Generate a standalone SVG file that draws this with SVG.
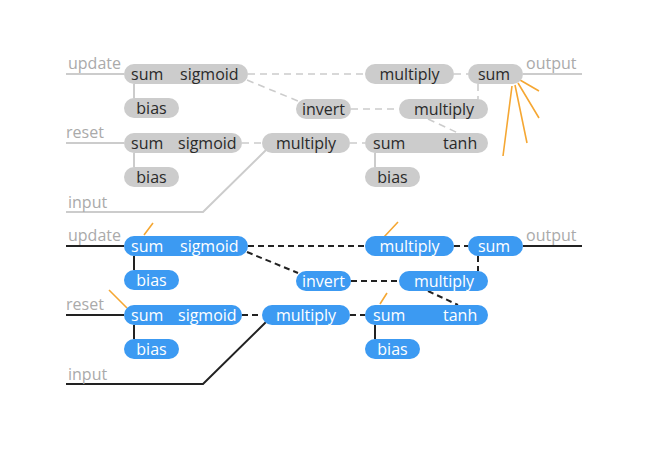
<svg xmlns="http://www.w3.org/2000/svg" width="662" height="458" viewBox="0 0 662 458">
<style>
text{font-family:"Open Sans","Noto Sans",sans-serif;font-size:16px}
.g rect{fill:#cccccc}
.g text{fill:#2a2a2a}
.b rect{fill:#3c9af2}
.b text{fill:#ffffff}
.lbl{fill:#aaaaaa}
.sg{stroke:#cccccc;stroke-width:2;fill:none}
.dg{stroke:#cccccc;stroke-width:1.6;fill:none;stroke-dasharray:7 5}
.sb{stroke:#222222;stroke-width:2;fill:none}
.db{stroke:#222222;stroke-width:2;fill:none;stroke-dasharray:6 4}
.o{stroke:#f5a733;stroke-width:1.6;fill:none}
.m{text-anchor:middle}
</style>
<g id="connectors-top">
<path class="sg" d="M66 74H124M66 143H124M66 212H203L266 150M582 74H523M134 84V98M134 153V167M375 153V167"/>
<path class="dg" d="M248 74H365M454 74H468M247 80L298 101M351 109H399M478 84V99M428 119L458 133M242 143H262M350 143H365"/>
<path class="o" d="M520 80L539 91M518 83L539 118M515 85L527 143M512 86L503 156"/>
</g>
<g id="connectors-bottom">
<path class="sb" d="M66 246H124M66 315H124M66 384H203L266 322M582 246H523M134 256V270M134 325V339M375 325V339"/>
<path class="db" d="M248 246H365M454 246H468M247 252L298 273M351 281H399M478 256V271M428 291L458 305M242 315H262M350 315H365"/>
<path class="o" d="M144 235L153 223M109 290L127 308M384 237L398 222M380 304L387 293"/>
</g>
<g id="labels">
<text class="lbl" x="68" y="69">update</text>
<text class="lbl" x="66" y="138">reset</text>
<text class="lbl" x="68" y="208">input</text>
<text class="lbl" x="526" y="69">output</text>
<text class="lbl" x="68" y="241">update</text>
<text class="lbl" x="66" y="310">reset</text>
<text class="lbl" x="68" y="380">input</text>
<text class="lbl" x="526" y="241">output</text>
</g>
<g class="g">
<g id="t-update-sum-sigmoid"><rect x="124" y="64" width="124" height="20" rx="10"/><text x="131" y="80">sum</text><text x="180" y="80">sigmoid</text></g>
<g id="t-update-bias"><rect x="124" y="98" width="55" height="20" rx="10"/><text class="m" x="151.5" y="114">bias</text></g>
<g id="t-reset-sum-sigmoid"><rect x="124" y="133" width="118" height="20" rx="10"/><text x="131" y="149">sum</text><text x="178" y="149">sigmoid</text></g>
<g id="t-reset-bias"><rect x="124" y="167" width="55" height="20" rx="10"/><text class="m" x="151.5" y="183">bias</text></g>
<g id="t-invert"><rect x="296" y="99" width="55" height="20" rx="10"/><text class="m" x="323.5" y="115">invert</text></g>
<g id="t-multiply-reset"><rect x="262" y="133" width="88" height="20" rx="10"/><text class="m" x="306" y="149">multiply</text></g>
<g id="t-multiply-top"><rect x="365" y="64" width="89" height="20" rx="10"/><text class="m" x="409.5" y="80">multiply</text></g>
<g id="t-sum-out"><rect x="468" y="64" width="55" height="20" rx="10"/><text class="m" x="494" y="80">sum</text></g>
<g id="t-multiply-2"><rect x="399" y="99" width="89" height="20" rx="10"/><text class="m" x="444" y="115">multiply</text></g>
<g id="t-sum-tanh"><rect x="365" y="133" width="123" height="20" rx="10"/><text x="373" y="149">sum</text><text x="443" y="149">tanh</text></g>
<g id="t-bias-3"><rect x="365" y="167" width="55" height="20" rx="10"/><text class="m" x="392.5" y="183">bias</text></g>
</g>
<g class="b">
<g id="b-update-sum-sigmoid"><rect x="124" y="236" width="124" height="20" rx="10"/><text x="131" y="252">sum</text><text x="180" y="252">sigmoid</text></g>
<g id="b-update-bias"><rect x="124" y="270" width="55" height="20" rx="10"/><text class="m" x="151.5" y="286">bias</text></g>
<g id="b-reset-sum-sigmoid"><rect x="124" y="305" width="118" height="20" rx="10"/><text x="131" y="321">sum</text><text x="178" y="321">sigmoid</text></g>
<g id="b-reset-bias"><rect x="124" y="339" width="55" height="20" rx="10"/><text class="m" x="151.5" y="355">bias</text></g>
<g id="b-invert"><rect x="296" y="271" width="55" height="20" rx="10"/><text class="m" x="323.5" y="287">invert</text></g>
<g id="b-multiply-reset"><rect x="262" y="305" width="88" height="20" rx="10"/><text class="m" x="306" y="321">multiply</text></g>
<g id="b-multiply-top"><rect x="365" y="236" width="89" height="20" rx="10"/><text class="m" x="409.5" y="252">multiply</text></g>
<g id="b-sum-out"><rect x="468" y="236" width="55" height="20" rx="10"/><text class="m" x="494" y="252">sum</text></g>
<g id="b-multiply-2"><rect x="399" y="271" width="89" height="20" rx="10"/><text class="m" x="444" y="287">multiply</text></g>
<g id="b-sum-tanh"><rect x="365" y="305" width="123" height="20" rx="10"/><text x="373" y="321">sum</text><text x="443" y="321">tanh</text></g>
<g id="b-bias-3"><rect x="365" y="339" width="55" height="20" rx="10"/><text class="m" x="392.5" y="355">bias</text></g>
</g>
</svg>
